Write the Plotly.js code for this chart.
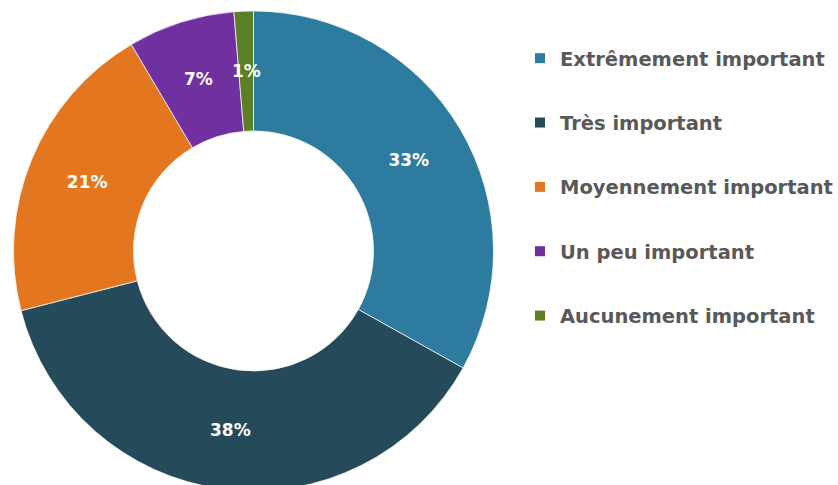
<!DOCTYPE html>
<html>
<head>
<meta charset="utf-8">
<script src="https://cdn.plot.ly/plotly-3.0.1.min.js"></script>
<style>
  html, body { margin: 0; padding: 0; overflow: hidden; background: #fff; }
  #chart { width: 838px; height: 492px; }
</style>
</head>
<body>
<div id="chart"></div>
<script>
// niveaux d'importance et parts (%)
let niveaux = ["Extrêmement important", "Très important", "Moyennement important", "Un peu important", "Aucunement important"]
let parts = [33.1, 37.9, 20.5, 7.2, 1.3]
let couleurs = ["#2D7CA0", "#254A59", "#E3761E", "#7030A0", "#5A7F25"]

let W = 838, H = 492
let marge = {l: 0, r: 0, t: 11, b: 1}
let domX = [13.5 / W, 493.5 / W]
let trou = 0.5
let police = '"DejaVu Sans", Verdana, sans-serif'

// petites parts (< 10 %) : Plotly pousse l'etiquette vers le bord,
// on la pose donc au milieu de l'anneau avec une annotation
let total = parts.reduce((a, b) => a + b, 0)
let petit = parts.map(p => p / total < 0.1)
let positions = petit.map(s => s ? 'none' : 'inside')

let donut = {
	type: 'pie',
	labels: niveaux,
	values: parts,
	sort: false,
	direction: 'clockwise',
	hole: trou,
	domain: {x: domX, y: [0, 1]},
	marker: {colors: couleurs, line: {color: 'rgba(255,255,255,0.7)', width: 1}},
	texttemplate: '%{percent:.0%}',
	textposition: positions,
	insidetextorientation: 'horizontal',
	textfont: {family: police, size: 17, weight: 'bold', color: '#ffffff'},
	hoverinfo: 'label+percent',
	showlegend: false
}

// legende : une trace vide par niveau, pour pouvoir espacer les entrees
let legendTraces = []
for (let i = 0; i < niveaux.length; i++){
	legendTraces.push({
		type: 'scatter',
		mode: 'markers',
		x: [null],
		y: [null],
		name: niveaux[i],
		legendgroup: 'g' + i,
		marker: {symbol: 'square', size: 10, color: couleurs[i]},
		hoverinfo: 'skip'
	})
}

// geometrie de l'anneau (angle depuis midi, sens horaire)
let plotW = W - marge.l - marge.r
let plotH = H - marge.t - marge.b
let cx = (domX[0] + domX[1]) / 2 * plotW
let cy = plotH / 2
let rayon = Math.min((domX[1] - domX[0]) * plotW, plotH) / 2
let rMilieu = rayon * (1 + trou) / 2

let etiquettes = []
let cumul = 0
for (let i = 0; i < parts.length; i++){
	let angle = 2 * Math.PI * (cumul + parts[i] / 2) / total
	cumul += parts[i]
	if (!petit[i]) continue
	etiquettes.push({
		xref: 'paper',
		yref: 'paper',
		x: (cx + rMilieu * Math.sin(angle)) / plotW,
		y: 1 - (cy - rMilieu * Math.cos(angle)) / plotH,
		xanchor: 'center',
		yanchor: 'middle',
		text: Math.round(parts[i] / total * 100) + '%',
		showarrow: false,
		font: {family: police, size: 17, weight: 'bold', color: '#ffffff'}
	})
}

let layout = {
	width: W,
	height: H,
	margin: marge,
	paper_bgcolor: '#ffffff',
	plot_bgcolor: '#ffffff',
	xaxis: {visible: false},
	yaxis: {visible: false},
	showlegend: true,
	legend: {
		x: 520 / W,
		xanchor: 'left',
		y: 1 - 28 / plotH,
		yanchor: 'top',
		tracegroupgap: 36,
		font: {family: police, size: 19.5, weight: 'bold', color: '#595959'},
		bgcolor: 'rgba(0,0,0,0)'
	},
	annotations: etiquettes
}

Plotly.newPlot('chart', [donut].concat(legendTraces), layout, {displayModeBar: false, staticPlot: true})
</script>
</body>
</html>
